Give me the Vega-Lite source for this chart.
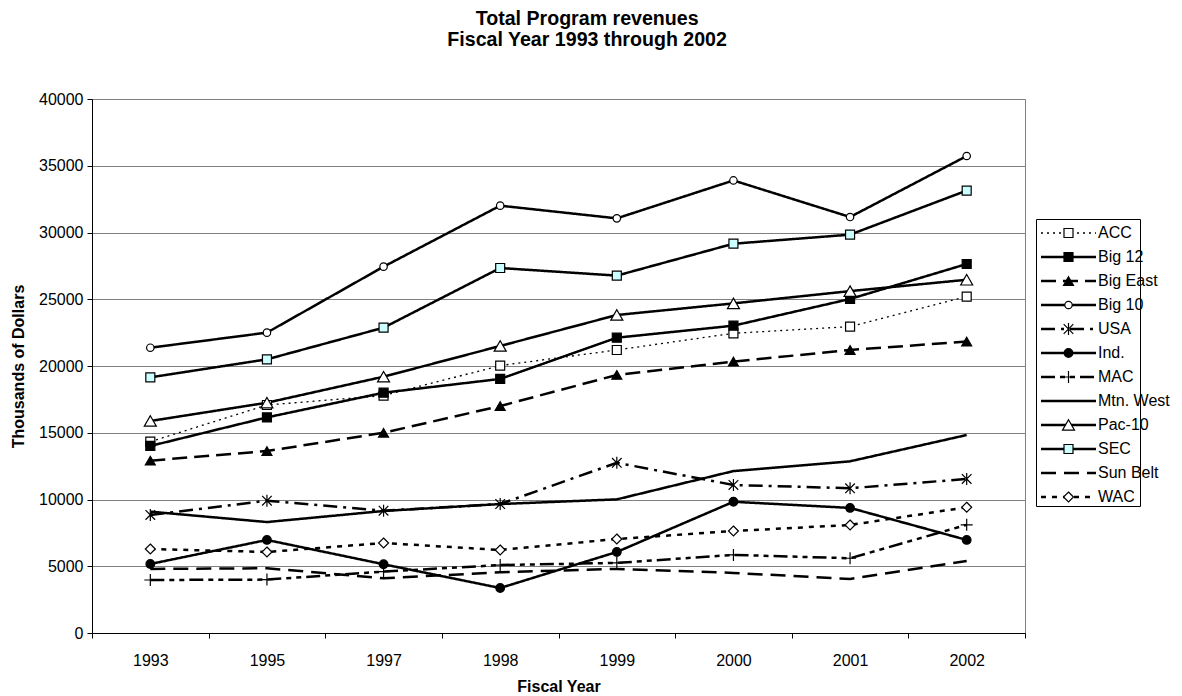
{
  "$schema": "https://vega.github.io/schema/vega-lite/v6.json",
  "padding": {"left": 10, "top": 8, "right": 5, "bottom": 0},
  "config": {"font": "Liberation Sans", "view": {"stroke": null}},
  "title": {
    "text": ["Total Program revenues", "Fiscal Year 1993 through 2002"],
    "fontSize": 19.6, "fontWeight": "bold", "lineHeight": 21, "color": "black",
    "anchor": "middle", "offset": 40, "dx": -3, "font": "Liberation Sans"
  },
  "datasets": {
    "rev": [
      {"conf": "ACC", "year": 1993, "value": 14330}, {"conf": "ACC", "year": 1995, "value": 17080}, {"conf": "ACC", "year": 1997, "value": 17780}, {"conf": "ACC", "year": 1998, "value": 20030}, {"conf": "ACC", "year": 1999, "value": 21200}, {"conf": "ACC", "year": 2000, "value": 22450}, {"conf": "ACC", "year": 2001, "value": 22950}, {"conf": "ACC", "year": 2002, "value": 25200},
      {"conf": "Big 12", "year": 1993, "value": 14010}, {"conf": "Big 12", "year": 1995, "value": 16150}, {"conf": "Big 12", "year": 1997, "value": 18000}, {"conf": "Big 12", "year": 1998, "value": 19030}, {"conf": "Big 12", "year": 1999, "value": 22120}, {"conf": "Big 12", "year": 2000, "value": 23020}, {"conf": "Big 12", "year": 2001, "value": 25020}, {"conf": "Big 12", "year": 2002, "value": 27640},
      {"conf": "Big East", "year": 1993, "value": 12910}, {"conf": "Big East", "year": 1995, "value": 13630}, {"conf": "Big East", "year": 1997, "value": 15000}, {"conf": "Big East", "year": 1998, "value": 17000}, {"conf": "Big East", "year": 1999, "value": 19330}, {"conf": "Big East", "year": 2000, "value": 20330}, {"conf": "Big East", "year": 2001, "value": 21200}, {"conf": "Big East", "year": 2002, "value": 21830},
      {"conf": "Big 10", "year": 1993, "value": 21370}, {"conf": "Big 10", "year": 1995, "value": 22500}, {"conf": "Big 10", "year": 1997, "value": 27440}, {"conf": "Big 10", "year": 1998, "value": 32010}, {"conf": "Big 10", "year": 1999, "value": 31060}, {"conf": "Big 10", "year": 2000, "value": 33900}, {"conf": "Big 10", "year": 2001, "value": 31160}, {"conf": "Big 10", "year": 2002, "value": 35730},
      {"conf": "USA", "year": 1993, "value": 8840}, {"conf": "USA", "year": 1995, "value": 9910}, {"conf": "USA", "year": 1997, "value": 9160}, {"conf": "USA", "year": 1998, "value": 9660}, {"conf": "USA", "year": 1999, "value": 12750}, {"conf": "USA", "year": 2000, "value": 11090}, {"conf": "USA", "year": 2001, "value": 10840}, {"conf": "USA", "year": 2002, "value": 11540},
      {"conf": "Ind.", "year": 1993, "value": 5170}, {"conf": "Ind.", "year": 1995, "value": 6970}, {"conf": "Ind.", "year": 1997, "value": 5150}, {"conf": "Ind.", "year": 1998, "value": 3370}, {"conf": "Ind.", "year": 1999, "value": 6070}, {"conf": "Ind.", "year": 2000, "value": 9830}, {"conf": "Ind.", "year": 2001, "value": 9370}, {"conf": "Ind.", "year": 2002, "value": 6970},
      {"conf": "MAC", "year": 1993, "value": 3970}, {"conf": "MAC", "year": 1995, "value": 4000}, {"conf": "MAC", "year": 1997, "value": 4600}, {"conf": "MAC", "year": 1998, "value": 5090}, {"conf": "MAC", "year": 1999, "value": 5250}, {"conf": "MAC", "year": 2000, "value": 5850}, {"conf": "MAC", "year": 2001, "value": 5600}, {"conf": "MAC", "year": 2002, "value": 8100},
      {"conf": "Mtn. West", "year": 1993, "value": 9090}, {"conf": "Mtn. West", "year": 1995, "value": 8310}, {"conf": "Mtn. West", "year": 1997, "value": 9140}, {"conf": "Mtn. West", "year": 1998, "value": 9660}, {"conf": "Mtn. West", "year": 1999, "value": 10010}, {"conf": "Mtn. West", "year": 2000, "value": 12130}, {"conf": "Mtn. West", "year": 2001, "value": 12860}, {"conf": "Mtn. West", "year": 2002, "value": 14830},
      {"conf": "Pac-10", "year": 1993, "value": 15880}, {"conf": "Pac-10", "year": 1995, "value": 17250}, {"conf": "Pac-10", "year": 1997, "value": 19200}, {"conf": "Pac-10", "year": 1998, "value": 21500}, {"conf": "Pac-10", "year": 1999, "value": 23820}, {"conf": "Pac-10", "year": 2000, "value": 24690}, {"conf": "Pac-10", "year": 2001, "value": 25610}, {"conf": "Pac-10", "year": 2002, "value": 26460},
      {"conf": "SEC", "year": 1993, "value": 19150}, {"conf": "SEC", "year": 1995, "value": 20500}, {"conf": "SEC", "year": 1997, "value": 22870}, {"conf": "SEC", "year": 1998, "value": 27340}, {"conf": "SEC", "year": 1999, "value": 26770}, {"conf": "SEC", "year": 2000, "value": 29160}, {"conf": "SEC", "year": 2001, "value": 29840}, {"conf": "SEC", "year": 2002, "value": 33140},
      {"conf": "Sun Belt", "year": 1993, "value": 4800}, {"conf": "Sun Belt", "year": 1995, "value": 4850}, {"conf": "Sun Belt", "year": 1997, "value": 4100}, {"conf": "Sun Belt", "year": 1998, "value": 4550}, {"conf": "Sun Belt", "year": 1999, "value": 4800}, {"conf": "Sun Belt", "year": 2000, "value": 4500}, {"conf": "Sun Belt", "year": 2001, "value": 4050}, {"conf": "Sun Belt", "year": 2002, "value": 5400},
      {"conf": "WAC", "year": 1993, "value": 6290}, {"conf": "WAC", "year": 1995, "value": 6070}, {"conf": "WAC", "year": 1997, "value": 6740}, {"conf": "WAC", "year": 1998, "value": 6220}, {"conf": "WAC", "year": 1999, "value": 7040}, {"conf": "WAC", "year": 2000, "value": 7640}, {"conf": "WAC", "year": 2001, "value": 8090}, {"conf": "WAC", "year": 2002, "value": 9420}
    ]
  },
  "resolve": {"scale": {"x": "independent", "y": "independent"}},
  "spacing": 9,
  "hconcat": [
    {
      "width": 933,
      "height": 534,
      "view": {"stroke": "#808080"},
      "data": {"name": "rev"},
      "encoding": {
        "x": {
          "field": "year", "type": "ordinal",
          "scale": {"type": "band", "paddingInner": 0, "paddingOuter": 0},
          "axis": {
            "title": "Fiscal Year", "labelAngle": 0, "tickBand": "extent", "grid": false,
            "domainColor": "black", "tickColor": "black", "tickSize": 5,
            "labelFontSize": 16, "labelPadding": 14, "labelColor": "black",
            "titleFontSize": 16, "titleFontWeight": "bold", "titlePadding": 10, "titleColor": "black"
          }
        },
        "y": {
          "field": "value", "type": "quantitative",
          "scale": {"domain": [0, 40000], "nice": false},
          "axis": {
            "title": "Thousands of Dollars",
            "values": [0, 5000, 10000, 15000, 20000, 25000, 30000, 35000, 40000],
            "format": "d", "grid": true, "gridColor": "#808080", "gridOpacity": 1,
            "domainColor": "black", "tickColor": "black", "tickSize": 5,
            "labelFontSize": 16, "labelPadding": 4, "labelColor": "black",
            "titleFontSize": 16, "titleFontWeight": "bold", "titlePadding": 12, "titleColor": "black"
          }
        }
      },
      "layer": [
        {
          "transform": [{"filter": "datum.conf != 'ACC'"}],
          "mark": {"type": "line", "color": "black", "strokeWidth": 2.5},
          "encoding": {
            "strokeDash": {
              "field": "conf", "type": "nominal", "legend": null,
              "scale": {
                "domain": ["ACC", "Big 12", "Big East", "Big 10", "USA", "Ind.", "MAC", "Mtn. West", "Pac-10", "SEC", "Sun Belt", "WAC"],
                "range": [[2, 4], [1, 0], [15, 7], [1, 0], [14, 6, 3, 6], [1, 0], [14, 5, 5, 5, 5, 5], [1, 0], [1, 0], [1, 0], [15, 8], [5, 6]]
              }
            }
          }
        },
        {
          "transform": [{"filter": "datum.conf == 'ACC'"}],
          "mark": {"type": "line", "color": "black", "strokeWidth": 1.3, "strokeDash": [2, 4]},
          "encoding": {}
        },
        {
          "transform": [{"filter": "datum.conf != 'Mtn. West' && datum.conf != 'Sun Belt'"}],
          "mark": {"type": "point", "filled": true, "opacity": 1, "stroke": "black", "strokeWidth": 1.2, "size": 144},
          "encoding": {
            "shape": {
              "field": "conf", "type": "nominal", "legend": null,
              "scale": {
                "domain": ["ACC", "Big 12", "Big East", "Big 10", "USA", "Ind.", "MAC", "Pac-10", "SEC", "WAC"],
                "range": [
                  "M-0.75,-0.75H0.75V0.75H-0.75Z",
                  "M-0.75,-0.75H0.75V0.75H-0.75Z",
                  "M0,-0.72L0.83,0.72L-0.83,0.72Z",
                  "M0.62,0A0.62,0.62 0 1,1 -0.62,0A0.62,0.62 0 1,1 0.62,0Z",
                  "M-0.8,-0.8L0.8,0.8M-0.8,0.8L0.8,-0.8M0,-1L0,1",
                  "M0.72,0A0.72,0.72 0 1,1 -0.72,0A0.72,0.72 0 1,1 0.72,0Z",
                  "M-1,0L1,0M0,-1L0,1",
                  "M0,-0.87L1,0.87L-1,0.87Z",
                  "M-0.75,-0.75H0.75V0.75H-0.75Z",
                  "M0,-0.83L0.83,0L0,0.83L-0.83,0Z"
                ]
              }
            },
            "fill": {
              "field": "conf", "type": "nominal", "legend": null,
              "scale": {
                "domain": ["ACC", "Big 12", "Big East", "Big 10", "USA", "Ind.", "MAC", "Pac-10", "SEC", "WAC"],
                "range": ["white", "black", "black", "white", "white", "black", "white", "white", "#CCFFFF", "white"]
              }
            }
          }
        }
      ]
    },
    {
      "spacing": 0,
      "vconcat": [
        {
          "width": 104,
          "height": 119,
          "data": {"values": []},
          "mark": "point",
          "view": {"stroke": null}
        },
        {
          "width": 104,
          "height": 287,
          "view": {"stroke": "black", "strokeWidth": 1},
          "data": {"name": "rev"},
          "encoding": {
            "x": {"field": "year", "type": "ordinal", "scale": {"type": "point", "padding": 0, "domain": [1993, 1995, 1997], "range": [5, 60]}, "axis": null},
            "y": {
              "field": "conf", "type": "nominal", "axis": null,
              "scale": {"type": "point", "padding": 0, "domain": ["ACC", "Big 12", "Big East", "Big 10", "USA", "Ind.", "MAC", "Mtn. West", "Pac-10", "SEC", "Sun Belt", "WAC"], "range": [14, 278]}
            }
          },
          "layer": [
            {
              "transform": [{"filter": "datum.conf != 'ACC' && (datum.year == 1993 || datum.year == 1995 || datum.year == 1997)"}],
              "mark": {"type": "line", "color": "black", "strokeWidth": 2.5},
              "encoding": {
                "strokeDash": {
                  "field": "conf", "type": "nominal", "legend": null,
                  "scale": {
                    "domain": ["ACC", "Big 12", "Big East", "Big 10", "USA", "Ind.", "MAC", "Mtn. West", "Pac-10", "SEC", "Sun Belt", "WAC"],
                    "range": [[2, 4], [1, 0], [15, 7], [1, 0], [14, 6, 3, 6], [1, 0], [14, 5, 5, 5, 5, 5], [1, 0], [1, 0], [1, 0], [15, 8], [5, 6]]
                  }
                }
              }
            },
            {
              "transform": [{"filter": "datum.conf == 'ACC' && (datum.year == 1993 || datum.year == 1995 || datum.year == 1997)"}],
              "mark": {"type": "line", "color": "black", "strokeWidth": 1.3, "strokeDash": [2, 4]},
              "encoding": {}
            },
            {
              "transform": [{"filter": "datum.year == 1995 && datum.conf != 'Mtn. West' && datum.conf != 'Sun Belt'"}],
              "mark": {"type": "point", "filled": true, "opacity": 1, "stroke": "black", "strokeWidth": 1.2, "size": 144},
              "encoding": {
                "shape": {
                  "field": "conf", "type": "nominal", "legend": null,
                  "scale": {
                    "domain": ["ACC", "Big 12", "Big East", "Big 10", "USA", "Ind.", "MAC", "Pac-10", "SEC", "WAC"],
                    "range": [
                      "M-0.75,-0.75H0.75V0.75H-0.75Z",
                      "M-0.75,-0.75H0.75V0.75H-0.75Z",
                      "M0,-0.72L0.83,0.72L-0.83,0.72Z",
                      "M0.62,0A0.62,0.62 0 1,1 -0.62,0A0.62,0.62 0 1,1 0.62,0Z",
                      "M-0.8,-0.8L0.8,0.8M-0.8,0.8L0.8,-0.8M0,-1L0,1",
                      "M0.72,0A0.72,0.72 0 1,1 -0.72,0A0.72,0.72 0 1,1 0.72,0Z",
                      "M-1,0L1,0M0,-1L0,1",
                      "M0,-0.87L1,0.87L-1,0.87Z",
                      "M-0.75,-0.75H0.75V0.75H-0.75Z",
                      "M0,-0.83L0.83,0L0,0.83L-0.83,0Z"
                    ]
                  }
                },
                "fill": {
                  "field": "conf", "type": "nominal", "legend": null,
                  "scale": {
                    "domain": ["ACC", "Big 12", "Big East", "Big 10", "USA", "Ind.", "MAC", "Pac-10", "SEC", "WAC"],
                    "range": ["white", "black", "black", "white", "white", "black", "white", "white", "#CCFFFF", "white"]
                  }
                }
              }
            },
            {
              "transform": [{"filter": "datum.year == 1997"}],
              "mark": {"type": "text", "align": "left", "baseline": "middle", "dx": 2, "fontSize": 16, "color": "black"},
              "encoding": {"text": {"field": "conf", "type": "nominal"}}
            }
          ]
        }
      ]
    }
  ]
}
